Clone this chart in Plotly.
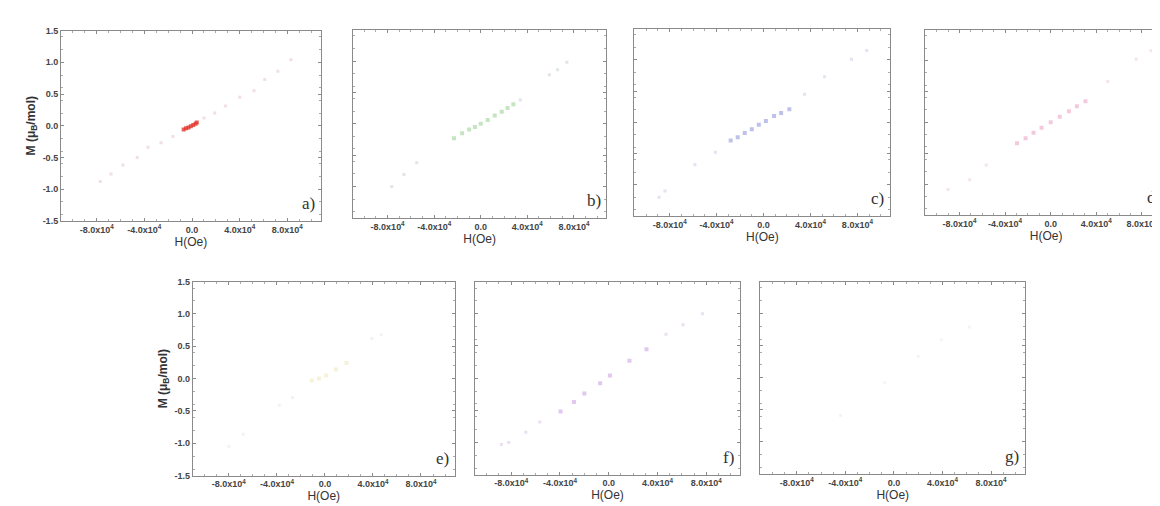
import plotly.graph_objects as go

FIG_W, FIG_H = 1160, 506

# --- data (H in Oe, M in muB/mol) ---
h_a_tail = [-7.7e4, -6.8e4, -5.8e4, -4.6e4, -3.7e4, -2.6e4, -1.6e4, 1.0e4, 1.9e4, 2.8e4, 4.0e4, 5.2e4, 6.1e4, 7.2e4, 8.3e4]
m_a_tail = [-0.88, -0.76, -0.62, -0.50, -0.34, -0.27, -0.17, 0.12, 0.20, 0.31, 0.45, 0.55, 0.73, 0.86, 1.04]
h_a_core = [-0.7e4, -0.5e4, -0.3e4, -0.1e4, 0.1e4, 0.3e4, 0.4e4]
m_a_core = [-0.06, -0.04, -0.03, -0.01, 0.01, 0.03, 0.05]

h_b_tail = [-7.65e4, -6.6e4, -5.5e4, 3.4e4, 5.9e4, 6.6e4, 7.4e4]
m_b_tail = [-1.00, -0.81, -0.62, 0.38, 0.78, 0.86, 0.98]
h_b_core = [-2.3e4, -1.6e4, -1.0e4, -0.5e4, 0.0, 0.6e4, 1.2e4, 1.8e4, 2.3e4, 2.8e4]
m_b_core = [-0.23, -0.15, -0.09, -0.05, 0.0, 0.06, 0.13, 0.19, 0.25, 0.31]

h_c_tail = [-8.9e4, -8.4e4, -5.85e4, -4.1e4, 3.5e4, 5.2e4, 7.5e4, 8.8e4]
m_c_tail = [-1.20, -1.10, -0.68, -0.48, 0.45, 0.73, 1.01, 1.15]
h_c_core = [-2.8e4, -2.2e4, -1.6e4, -1.0e4, -0.4e4, 0.2e4, 0.9e4, 1.5e4, 2.2e4]
m_c_core = [-0.29, -0.24, -0.17, -0.11, -0.04, 0.02, 0.10, 0.15, 0.21]

h_d_tail = [-9.0e4, -7.1e4, -5.65e4, 5.0e4, 7.5e4, 8.8e4]
m_d_tail = [-1.09, -0.93, -0.69, 0.66, 1.02, 1.16]
h_d_core = [-2.95e4, -2.2e4, -1.5e4, -0.8e4, 0.0, 0.8e4, 1.6e4, 2.3e4, 3.05e4]
m_d_core = [-0.34, -0.26, -0.17, -0.09, 0.0, 0.09, 0.18, 0.26, 0.34]

h_e_tail = [-8.0e4, -6.8e4, -3.8e4, -2.7e4, 3.9e4, 4.7e4]
m_e_tail = [-1.05, -0.86, -0.41, -0.29, 0.62, 0.68]
h_e_core = [-1.1e4, -0.5e4, 0.1e4, 0.9e4, 1.8e4]
m_e_core = [-0.03, 0.0, 0.05, 0.14, 0.24]

h_f_tail = [-8.8e4, -8.2e4, -6.8e4, -5.65e4, 4.7e4, 6.1e4, 7.7e4]
m_f_tail = [-1.03, -1.00, -0.84, -0.68, 0.68, 0.83, 1.00]
h_f_core = [-3.95e4, -2.85e4, -2.0e4, -0.7e4, 0.1e4, 1.7e4, 3.1e4]
m_f_core = [-0.52, -0.37, -0.24, -0.08, 0.04, 0.27, 0.45]

h_g_tail = [-4.4e4, -0.75e4, 2.0e4, 3.9e4, 6.2e4]
m_g_tail = [-0.59, -0.08, 0.33, 0.59, 0.79]

x_tickvals = [-8e4, -4e4, 0, 4e4, 8e4]
x_ticktext = ["-8.0x10<sup>4</sup>", "-4.0x10<sup>4</sup>", "0.0", "4.0x10<sup>4</sup>", "8.0x10<sup>4</sup>"]
y_tickvals = [-1.5, -1.0, -0.5, 0.0, 0.5, 1.0, 1.5]
y_ticktext = ["-1.5", "-1.0", "-0.5", "0.0", "0.5", "1.0", "1.5"]

# panel: (label, tail h, tail m, core h, core m, tail colour, core colour, pixel box x0,x1,y0,y1, y labels)
panels = [
    ("a)", h_a_tail, m_a_tail, h_a_core, m_a_core, "rgba(200,130,140,0.25)", "rgba(225,55,45,0.8)", (53, 313, 18, 212), True),
    ("b)", h_b_tail, m_b_tail, h_b_core, m_b_core, "rgba(130,160,130,0.25)", "rgba(110,190,100,0.4)", (345, 599, 17, 209), False),
    ("c)", h_c_tail, m_c_tail, h_c_core, m_c_core, "rgba(140,150,200,0.25)", "rgba(110,120,210,0.45)", (627, 883, 16, 207), False),
    ("d)", h_d_tail, m_d_tail, h_d_core, m_d_core, "rgba(210,150,180,0.25)", "rgba(230,120,170,0.4)", (918, 1160, 17, 206), False),
    ("e)", h_e_tail, m_e_tail, h_e_core, m_e_core, "rgba(190,190,170,0.18)", "rgba(220,210,120,0.28)", (185, 447, 274, 472), True),
    ("f)", h_f_tail, m_f_tail, h_f_core, m_f_core, "rgba(190,150,210,0.3)", "rgba(190,130,220,0.45)", (467, 733, 274, 471), False),
    ("g)", h_g_tail, m_g_tail, [], [], "rgba(200,200,190,0.2)", "rgba(200,200,190,0.2)", (753, 1018, 274, 470), False),
]

fig = go.Figure()
layout = dict(
    width=FIG_W, height=FIG_H,
    margin=dict(l=0, r=0, t=0, b=0),
    paper_bgcolor="white", plot_bgcolor="white",
    showlegend=False,
    font=dict(family="Liberation Sans, Arial", color="#333"),
)
annotations = []

for i, (lab, ht, mt, hc, mc, ctail, ccore, box, ylabels) in enumerate(panels):
    n = "" if i == 0 else str(i + 1)
    xa, ya = "x" + n, "y" + n
    x0, x1, y0, y1 = box
    x_range = [-1.1e5, 1.02e5] if lab == "d)" else [-1.1e5, 1.08e5]

    fig.add_trace(go.Scatter(x=ht, y=mt, mode="markers", xaxis=xa, yaxis=ya,
                             marker=dict(size=3, color=ctail, symbol="square")))
    if hc:
        fig.add_trace(go.Scatter(x=hc, y=mc, mode="markers", xaxis=xa, yaxis=ya,
                                 marker=dict(size=4, color=ccore, symbol="square")))

    axis_common = dict(showgrid=False, zeroline=False, showline=True, linecolor="#8a8a8a",
                       linewidth=1, mirror="ticks", ticks="inside", ticklen=3,
                       tickcolor="#8a8a8a", tickfont=dict(size=9, color="#444", weight="bold"),
                       minor=dict(ticks="inside", ticklen=2, tickcolor="#aaa"))
    layout["xaxis" + n] = dict(axis_common, domain=[x0 / FIG_W, x1 / FIG_W], anchor=ya,
                               range=x_range, tickvals=x_tickvals, ticktext=x_ticktext,
                               title=dict(text="H(Oe)", font=dict(size=12, color="#333"), standoff=1))
    yax = dict(axis_common, domain=[1 - y1 / FIG_H, 1 - y0 / FIG_H], anchor=xa,
               range=[-1.5, 1.5], tickvals=y_tickvals, ticktext=y_ticktext, showticklabels=ylabels)
    if ylabels:
        yax["title"] = dict(text="<b>M (μ<sub>B</sub>/mol)</b>", font=dict(size=12, color="#333"), standoff=4)
    layout["yaxis" + n] = yax
    annotations.append(dict(text=lab, xref=xa + " domain", yref=ya + " domain", x=0.985, y=0.03,
                            xanchor="right", yanchor="bottom", showarrow=False,
                            font=dict(family="Liberation Serif, Times New Roman", size=17, color="#333")))

layout["annotations"] = annotations
fig.update_layout(**layout)
fig.write_html("out.html")
